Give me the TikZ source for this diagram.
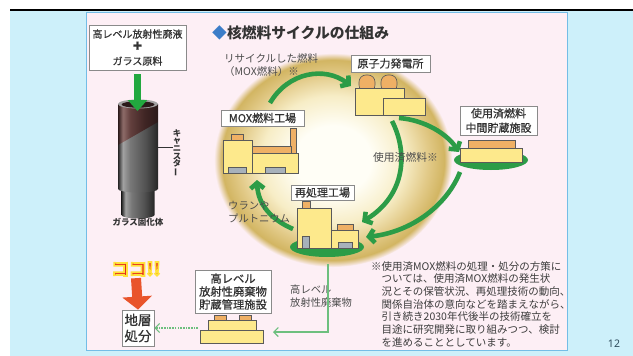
\documentclass[tikz,border=0pt]{standalone}
\usepackage{fontspec}
\usepackage{graphicx}
\usetikzlibrary{arrows.meta}
\setmainfont{Noto Sans CJK JP}
\newfontfamily\jpmed{Noto Sans CJK JP}[FakeBold=0.7]
\newfontfamily\numfont{Noto Sans}
\newcommand{\jsize}[2]{\fontsize{#1}{#2}\selectfont}
% red letters with a yellow rim: fill + stroke text render mode
\newcommand{\rimtext}[1]{{\color{kokored}%
  \special{pdf:literal direct 2 Tr 1.7 w 1 0.886 0.227 RG}#1%
  \special{pdf:literal direct 0 Tr}}}

\definecolor{pagecyan}{HTML}{CDF0FA}
\definecolor{panelpink}{HTML}{FDEFF5}
\definecolor{panelline}{HTML}{74BDE6}
\definecolor{labelgray}{HTML}{333333}
\definecolor{softgray}{HTML}{4C4C4C}
\definecolor{notegray}{HTML}{3C3C3C}
\definecolor{boxline}{HTML}{8A8A8A}
\definecolor{cyclegreen}{HTML}{2C9C47}
\definecolor{thingreen}{HTML}{6DBF7E}
\definecolor{feedgreen}{HTML}{22A83F}
\definecolor{bldyellow}{HTML}{FDE98C}
\definecolor{bldorange}{HTML}{EFB065}
\definecolor{bldgray}{HTML}{A7B1BB}
\definecolor{bldline}{HTML}{5A5A5A}
\definecolor{ballin}{HTML}{FFFEF6}
\definecolor{ballmid}{HTML}{F7EDC6}
\definecolor{ballrim}{HTML}{E2CA88}
\definecolor{ballout}{HTML}{D2B562}
\definecolor{diamondblue}{HTML}{3C7DC8}
\definecolor{arrowred}{HTML}{E9542B}
\definecolor{kokored}{HTML}{E52A1E}
\definecolor{pagenum}{HTML}{2D4B5C}
\definecolor{canedge}{HTML}{262626}
\definecolor{canhi}{HTML}{A2A2A2}
\definecolor{canmid}{HTML}{787878}
\definecolor{canlow}{HTML}{505050}
\definecolor{maredge}{HTML}{2A1A1A}
\definecolor{marhi}{HTML}{8E6C69}
\definecolor{marmid}{HTML}{63403E}
\definecolor{marlow}{HTML}{402524}

% glowing sphere behind the cycle
\pgfdeclareradialshading{glowball}{\pgfpoint{0bp}{0bp}}{%
  color(0bp)=(ballin); color(8bp)=(ballin); color(15bp)=(ballmid);
  color(20bp)=(ballrim); color(23.4bp)=(ballout); color(25bp)=(panelpink);
  color(50bp)=(panelpink)}
% metallic canister body
\pgfdeclarehorizontalshading{canbody}{100bp}{%
  color(0bp)=(canedge); color(25bp)=(canedge); color(31bp)=(canhi);
  color(40bp)=(canmid); color(60bp)=(canlow); color(75bp)=(canedge);
  color(100bp)=(canedge)}
\pgfdeclarehorizontalshading{canglass}{100bp}{%
  color(0bp)=(maredge); color(25bp)=(maredge); color(31bp)=(marhi);
  color(40bp)=(marmid); color(58bp)=(marlow); color(75bp)=(maredge);
  color(100bp)=(maredge)}

\begin{document}
\begin{tikzpicture}[x=1pt,y=-1pt,
  lbox/.style={draw=boxline, fill=white, line width=0.8, inner sep=0,
    align=center, text=labelgray},
  plain/.style={inner sep=0, text=labelgray},
  cyclabel/.style={inner sep=0, text=softgray},
  bld/.style={fill=bldyellow, draw=bldline, line width=0.6},
  roof/.style={fill=bldorange, draw=bldline, line width=0.6},
  win/.style={fill=bldgray, draw=bldline, line width=0.5},
  base/.style={fill=cyclegreen},
  cyc/.style={draw=cyclegreen, line width=4.6,
    -{Straight Barb[length=5.5pt,width=13.5pt]}},
  thin/.style={draw=thingreen, line width=1.1,
    -{Straight Barb[length=4.5pt,width=9pt]}}]

\useasboundingbox (0,0) rectangle (633,356);

% page and panel
\fill[white] (0,0) rectangle (633,356);
\fill[pagecyan] (10,10) rectangle (633,356);
\draw[black, line width=1.5] (10,10) -- (633,10);
\draw[panelline, fill=panelpink, line width=1] (86,12) rectangle (567.5,350);

% sphere
\shade[shading=glowball] (333,160) ellipse [x radius=119, y radius=107];

% ---- vitrification: source box, canister ----
\node[lbox, minimum width=97, minimum height=45, font=\jpmed\jsize{10}{13.5}] (src)
  at (137.5,47.5) {高レベル放射性廃液\\{\jsize{15}{13.5}\bfseries +}\\ガラス原料};

% lower section of the canister
\shade[shading=canbody] (121.5,186) -- (121.5,215)
  arc[start angle=180, end angle=0, x radius=16.5, y radius=3.5]
  -- (154.5,186) -- cycle;
% main body
\shade[shading=canbody] (118,104) -- (118,189)
  arc[start angle=180, end angle=0, x radius=20, y radius=3.5]
  -- (158,104) -- cycle;
% glass-filled upper part
\begin{scope}
  \clip (118,104) rectangle (158,190);
  \shade[shading=canglass] (118,100) -- (158,100) -- (158,122) -- (118,145) -- cycle;
\end{scope}
% opening
\fill[canhi] (138,104) ellipse [x radius=20, y radius=4.5];
\fill[maredge] (138,104.5) ellipse [x radius=16.5, y radius=3.2];

\coordinate (can-top) at (137.5,111);
\draw[feedgreen, line width=6.5, -{Triangle[length=11pt,width=19pt]}]
  (src.south) ++(0,4) -- (can-top);

\coordinate (can-side) at (158,147);
\node[plain, align=center, font=\jsize{8.3}{7.6}\bfseries] (canlabel) at (177,153)
  {キ\\ャ\\ニ\\ス\\タ\\\rotatebox[origin=c]{90}{ー}};
\draw[labelgray, line width=0.7] (can-side) -- (canlabel.west |- can-side);
\node[plain, font=\jsize{8.5}{10}\bfseries] (glass) at (138,222) {ガラス固化体};

% ---- title ----
\node[plain, anchor=west, font=\jsize{14.8}{16}\bfseries] (title) at (212,33)
  {\textcolor{diamondblue}{◆}核燃料サイクルの仕組み};

% ---- nuclear power plant ----
\node[lbox, minimum width=79, minimum height=17, font=\jpmed\jsize{11}{13}] (npp)
  at (390.5,63.5) {原子力発電所};
\draw[roof, rounded corners=7] (359,92) -- (359,75) -- (375,75) -- (375,92) -- cycle;
\draw[roof, rounded corners=7] (381,92) -- (381,75) -- (397,75) -- (397,92) -- cycle;
\draw[bld] (355,88) rectangle (404,115);
\draw[bld] (383,98) rectangle (425,115);

% ---- MOX fuel plant ----
\node[lbox, minimum width=83, minimum height=16, font=\jpmed\jsize{11}{13}] (mox)
  at (262.5,118) {MOX燃料工場};
\draw[roof] (231,134) rectangle (243,140);
\draw[roof] (290,128) rectangle (296,153);
\draw[roof] (252,146) rectangle (291,153);
\draw[bld] (223,140) rectangle (252,173);
\draw[bld] (252,153) rectangle (298,173);
\draw[win] (228,167) rectangle (246,173);
\draw[win] (265,167) rectangle (285,173);

% ---- reprocessing plant ----
\node[lbox, minimum width=63, minimum height=15, font=\jpmed\jsize{11}{13}] (rep)
  at (322.5,192.5) {再処理工場};
\fill[base] (327,247) ellipse [x radius=37, y radius=10];
\draw[roof] (302,201) rectangle (310,208);
\draw[bld] (297,208) rectangle (331,248);
\draw[roof] (337,224) rectangle (353,230);
\draw[bld] (331,230) rectangle (358,248);
\draw[win] (302,236) rectangle (309,248);
\draw[win] (338,242) rectangle (352,248);

% ---- interim storage of spent fuel ----
\node[lbox, minimum width=77, minimum height=29, font=\jpmed\jsize{11}{14.5}] (interim)
  at (498.5,120.5) {使用済燃料\\中間貯蔵施設};
\fill[base] (491,160) ellipse [x radius=37, y radius=10];
\draw[roof] (468,140) rectangle (515,148);
\draw[bld] (460,148) rectangle (522,162);

% ---- cycle arrows ----
\coordinate (mox-up) at (270,103);
\coordinate (npp-in) at (351,86);
\coordinate (npp-r) at (399,118);
\coordinate (interim-in) at (459,152);
\coordinate (npp-d) at (392,121);
\coordinate (rep-in1) at (362,222);
\coordinate (interim-out) at (460,172);
\coordinate (rep-in2) at (366,237);
\coordinate (rep-l) at (293,229);
\coordinate (mox-in) at (257,180);

\draw[cyc] (mox-up) .. controls (288,72) and (325,66) .. (npp-in);
\draw[cyc] (npp-r) .. controls (425,120) and (447,134) .. (interim-in);
\draw[cyc] (npp-d) .. controls (408,152) and (406,195) .. (rep-in1);
\draw[cyc] (interim-out) .. controls (447,205) and (412,232) .. (rep-in2);
\draw[cyc] (rep-l) .. controls (272,220) and (258,205) .. (mox-in);

% ---- cycle labels ----
\node[cyclabel, anchor=west, align=left, font=\jsize{10.5}{13.5}] (recyc) at (224,65)
  {リサイクルした燃料\\（MOX燃料）※};
\node[cyclabel, font=\jsize{10.8}{13}] (spent) at (405.5,157) {使用済燃料※};
\node[cyclabel, anchor=west, align=left, font=\jsize{10.3}{13.5}] (upu) at (228,212)
  {ウランや\\プルトニウム};

% ---- high-level waste storage and disposal ----
\node[cyclabel, anchor=west, align=left, font=\jsize{10.3}{12.5}] (hlw) at (290,296)
  {高レベル\\放射性廃棄物};
\node[lbox, minimum width=76, minimum height=43, font=\jpmed\jsize{11.3}{13}] (hlwstore)
  at (233,291.5) {高レベル\\放射性廃棄物\\貯蔵管理施設};
\draw[roof] (214,315) rectangle (226,321);
\draw[roof] (239,315) rectangle (251,321);
\draw[bld] (208,320) rectangle (256,330);
\draw[bld] (200,330) rectangle (263,343);

\node[lbox, minimum width=32, minimum height=36, font=\jpmed\jsize{13.5}{16}] (geo)
  at (138,328) {地層\\処分};

\coordinate (rep-down) at (328,264);
\coordinate (hlw-in) at (273,332);
\coordinate (hlw-out) at (198,328);
\draw[thin] (rep-down) |- (hlw-in);
\draw[thin, dash pattern=on 1.6pt off 1.1pt] (hlw-out) -- (geo.east);

% ---- "here" marker ----
\node[plain, font=\jsize{17.5}{18}\bfseries] (koko) at (136,269)
  {\rimtext{ココ!!}};
\draw[arrowred, line width=10, -{Triangle[length=13pt,width=29pt]}]
  (koko.south) ++(0,2) -- (geo.north);

% ---- footnote ----
\node[plain, anchor=north west, align=left, text=notegray,
  font=\jsize{10.5}{12.7}] (note) at (371,261)
  {※使用済MOX燃料の処理・処分の方策に\\
   \phantom{※}ついては、使用済MOX燃料の発生状\\
   \phantom{※}況とその保管状況、再処理技術の動向、\\
   \phantom{※}関係自治体の意向などを踏まえながら、\\
   \phantom{※}引き続き2030年代後半の技術確立を\\
   \phantom{※}目途に研究開発に取り組みつつ、検討\\
   \phantom{※}を進めることとしています。};

% page number
\node[plain, text=pagenum, font=\numfont\bfseries\jsize{10.5}{12}] (pageno) at (614,344) {12};
\end{tikzpicture}
\end{document}
